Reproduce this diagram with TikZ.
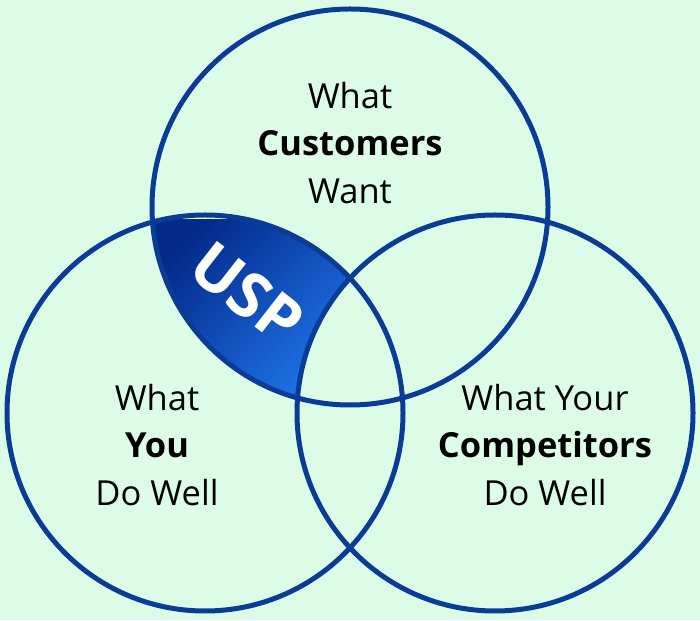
\documentclass[tikz,border=0pt]{standalone}
\usepackage{fontspec}
\setmainfont{Open Sans}
\definecolor{bgmint}{RGB}{221,252,231}
\definecolor{ringblue}{RGB}{10,60,150}
\definecolor{uspdark}{RGB}{3,42,138}
\definecolor{usplight}{RGB}{30,115,232}
\tikzset{
  ring/.style={draw=ringblue, line width=5pt},
  vlabel/.style={align=center, font=\fontsize{34.5}{47.5}\selectfont},
  usplabel/.style={text=white, font=\fontsize{63}{63}\selectfont\bfseries, rotate=-38}
}
\begin{document}
\begin{tikzpicture}[x=1pt,y=1pt]
\fill[bgmint] (0,0) rectangle (700,620);
\useasboundingbox (0,0) rectangle (700,620);
\coordinate (want) at (350,413);
\coordinate (you) at (205,207);
\coordinate (rival) at (495,207);
% USP area
\begin{scope}[even odd rule]
\clip (want) circle (198pt);
\clip (you) circle (198pt);
\clip (0,0) rectangle (700,620) (rival) circle (198pt);
\shade[top color=uspdark, bottom color=usplight, shading angle=45] (150,220) rectangle (355,400);
\end{scope}
\draw[ring] (want) circle (198pt);
\draw[ring] (you) circle (198pt);
\draw[ring] (rival) circle (198pt);
\node[usplabel] (usp) at (247,327) {USP};
\node[vlabel] (wantlbl) at (350,477) {What\\\textbf{Customers}\\Want};
\node[vlabel] (youlbl) at (157,175) {What\\\textbf{You}\\Do Well};
\node[vlabel] (rivallbl) at (545,175) {What Your\\\textbf{Competitors}\\Do Well};
\end{tikzpicture}
\end{document}
